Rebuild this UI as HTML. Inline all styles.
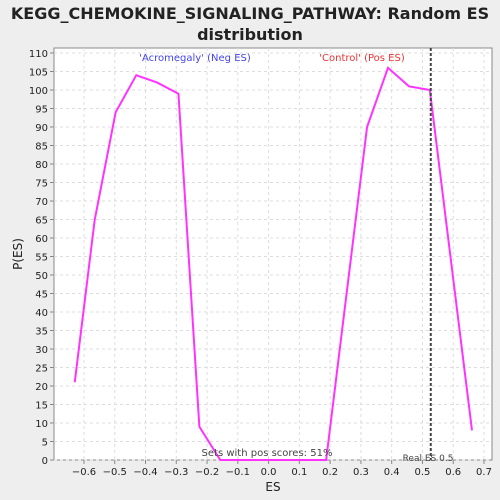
<!DOCTYPE html>
<html><head><meta charset="utf-8"><style>
html,body{margin:0;padding:0;overflow:hidden;background:#eeeeee;font-family:"Liberation Sans",sans-serif}
svg{display:block}
svg text{font-family:"DejaVu Sans","Liberation Sans",sans-serif}
</style></head><body>
<svg id="c" width="500" height="500">
<rect x="0" y="0" width="500" height="500" fill="#eeeeee"/>
<text x="250" y="19" text-anchor="middle" font-size="16" font-weight="bold" fill="#222">KEGG_CHEMOKINE_SIGNALING_PATHWAY: Random ES</text>
<text x="250" y="40" text-anchor="middle" font-size="16" font-weight="bold" fill="#222">distribution</text>
<rect x="54" y="48" width="438" height="412" fill="#fff" stroke="#888"/>
<g id="grid"></g><g id="axes"></g><g id="series"></g>
<text x="195" y="61" text-anchor="middle" font-size="10" fill="#4444ee">'Acromegaly' (Neg ES)</text>
<text x="362" y="61" text-anchor="middle" font-size="10" fill="#ee3333">'Control' (Pos ES)</text>
<text x="267" y="456" text-anchor="middle" font-size="10" fill="#444">Sets with pos scores: 51%</text>
<text x="428" y="461" text-anchor="middle" font-size="9" fill="#444">Real ES 0.5</text>
<text x="273" y="491" text-anchor="middle" font-size="12" fill="#222">ES</text>
<text x="22" y="254" text-anchor="middle" font-size="12" fill="#222" transform="rotate(-90 22 254)">P(ES)</text>
</svg>
<script>
const esValues=[-0.63,-0.565,-0.497,-0.43,-0.362,-0.293,-0.225,-0.157,0.187,0.32,0.388,0.456,0.524,0.661];
const pValues=[21,65,94,104,102,99,9,0,0,90,106,101,100,8];
const xTicks=[-0.6,-0.5,-0.4,-0.3,-0.2,-0.1,0,0.1,0.2,0.3,0.4,0.5,0.6,0.7];
const yTicks=[0,5,10,15,20,25,30,35,40,45,50,55,60,65,70,75,80,85,90,95,100,105,110];
const realES=[0.527];
const NS="http://www.w3.org/2000/svg";
function X(v){return 268.6+v*307.7;}
function Y(v){return 460-v*3.7;}
function mk(t,a,p){const e=document.createElementNS(NS,t);for(const k in a)e.setAttribute(k,a[k]);p.appendChild(e);return e;}
const g=document.getElementById('grid'),ax=document.getElementById('axes'),s=document.getElementById('series');
xTicks.forEach(t=>{const x=X(t);
mk('line',{x1:x,x2:x,y1:48,y2:460,stroke:'#ddd','stroke-dasharray':'3,3'},g);
mk('line',{x1:x,x2:x,y1:460,y2:464,stroke:'#888'},ax);
const tx=mk('text',{x:x,y:475,'text-anchor':'middle','font-size':'10',fill:'#222'},ax);tx.textContent=(t===0?'0.0':t.toFixed(1)).replace('-','\u2212');

});
yTicks.forEach(t=>{const y=Y(t);
mk('line',{x1:54,x2:492,y1:y,y2:y,stroke:'#ddd','stroke-dasharray':'3,3'},g);
mk('line',{x1:50,x2:54,y1:y,y2:y,stroke:'#888'},ax);
const tx=mk('text',{x:48,y:y+4,'text-anchor':'end','font-size':'10',fill:'#222'},ax);tx.textContent=t;

});
const pl=mk('polyline',{points:esValues.map((v,i)=>X(v)+','+Y(pValues[i])).join(' '),fill:'none',stroke:'#ff33ff','stroke-width':'2'},s);


const rl=mk('line',{x1:X(realES[0]),x2:X(realES[0]),y1:48,y2:460,stroke:'#444','stroke-width':'2','stroke-dasharray':'3,2'},s);


</script>
</body></html>
